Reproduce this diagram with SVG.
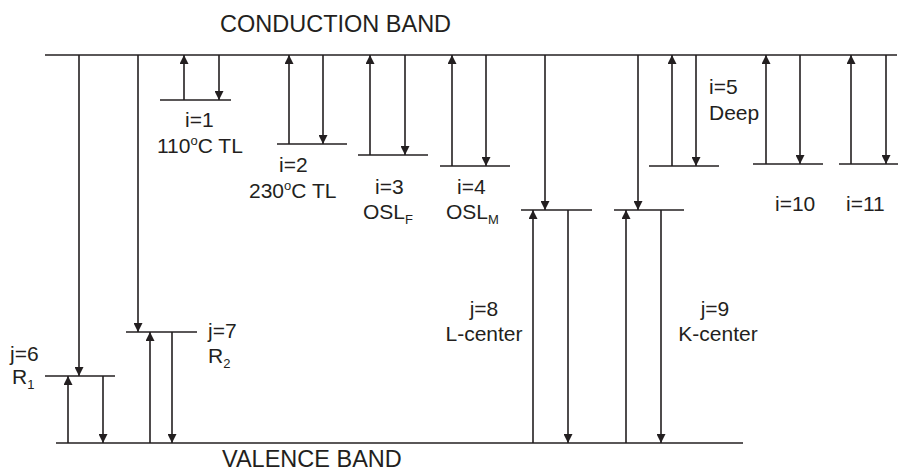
<svg xmlns="http://www.w3.org/2000/svg" width="898" height="473" viewBox="0 0 898 473">
<defs>
<style>
.ln{stroke:#231f20;stroke-width:1.6;fill:none}
.ar{stroke:#231f20;stroke-width:1.6;fill:none;marker-end:url(#ah)}
text{font-family:"Liberation Sans",Arial,sans-serif;fill:#231f20}
.t{font-size:23.5px}
.l{font-size:21px}
.s{font-size:13px}
</style>
<marker id="ah" viewBox="0 0 10 10" refX="10" refY="5" markerWidth="11" markerHeight="9" markerUnits="userSpaceOnUse" orient="auto">
<path d="M0,0 L10,5 L0,10 z" fill="#231f20"/>
</marker>
</defs>
<rect width="898" height="473" fill="#fff"/>
<g id="conduction-band">
<line class="ln" x1="45" y1="55" x2="897" y2="55"/>
<text class="t" x="220" y="32">CONDUCTION BAND</text>
</g>
<g id="valence-band">
<line class="ln" x1="56" y1="443" x2="743" y2="443"/>
<text class="t" x="222" y="467">VALENCE BAND</text>
</g>
<g id="level-j6">
<line class="ln" x1="45" y1="376" x2="115" y2="376"/>
<text class="l" x="10" y="361">j=6</text>
<text class="l" x="12" y="384">R<tspan class="s" dy="5">1</tspan></text>
</g>
<g id="level-j7">
<line class="ln" x1="126" y1="332" x2="197" y2="332"/>
<text class="l" x="208" y="338">j=7</text>
<text class="l" x="208" y="363">R<tspan class="s" dy="5">2</tspan></text>
</g>
<g id="level-i1">
<line class="ln" x1="160" y1="100" x2="231" y2="100"/>
<text class="l" x="185" y="127">i=1</text>
<text class="l" x="157" y="153">110<tspan class="s" dy="-8">o</tspan><tspan dy="8">C TL</tspan></text>
</g>
<g id="level-i2">
<line class="ln" x1="277" y1="144" x2="347" y2="144"/>
<text class="l" x="279" y="172">i=2</text>
<text class="l" x="249" y="198">230<tspan class="s" dy="-8">o</tspan><tspan dy="8">C TL</tspan></text>
</g>
<g id="level-i3">
<line class="ln" x1="358" y1="155" x2="428" y2="155"/>
<text class="l" x="375" y="194">i=3</text>
<text class="l" x="363" y="219">OSL<tspan class="s" dy="5">F</tspan></text>
</g>
<g id="level-i4">
<line class="ln" x1="440" y1="166" x2="510" y2="166"/>
<text class="l" x="457" y="194">i=4</text>
<text class="l" x="446" y="219">OSL<tspan class="s" dy="5">M</tspan></text>
</g>
<g id="level-j8">
<line class="ln" x1="521" y1="210" x2="592" y2="210"/>
<text class="l" x="484" y="316" text-anchor="middle">j=8</text>
<text class="l" x="484" y="341" text-anchor="middle">L-center</text>
</g>
<g id="level-j9">
<line class="ln" x1="614" y1="210" x2="684" y2="210"/>
<text class="l" x="715" y="316" text-anchor="middle">j=9</text>
<text class="l" x="718" y="341" text-anchor="middle">K-center</text>
</g>
<g id="level-i5">
<line class="ln" x1="649" y1="166" x2="719" y2="166"/>
<text class="l" x="709" y="94">i=5</text>
<text class="l" x="709" y="120">Deep</text>
</g>
<g id="level-i10">
<line class="ln" x1="753" y1="164" x2="823" y2="164"/>
<text class="l" x="775" y="211">i=10</text>
</g>
<g id="level-i11">
<line class="ln" x1="839" y1="164" x2="898" y2="164"/>
<text class="l" x="846" y="211">i=11</text>
</g>
<g id="connectors">
<line class="ar" x1="79" y1="55" x2="79" y2="376"/>
<line class="ar" x1="68" y1="443" x2="68" y2="376"/>
<line class="ar" x1="103" y1="376" x2="103" y2="443"/>
<line class="ar" x1="138" y1="55" x2="138" y2="332"/>
<line class="ar" x1="150" y1="443" x2="150" y2="332"/>
<line class="ar" x1="172" y1="332" x2="172" y2="443"/>
<line class="ar" x1="184" y1="100" x2="184" y2="55"/>
<line class="ar" x1="219" y1="55" x2="219" y2="100"/>
<line class="ar" x1="289" y1="144" x2="289" y2="55"/>
<line class="ar" x1="323" y1="55" x2="323" y2="144"/>
<line class="ar" x1="370" y1="155" x2="370" y2="55"/>
<line class="ar" x1="405" y1="55" x2="405" y2="155"/>
<line class="ar" x1="452" y1="166" x2="452" y2="55"/>
<line class="ar" x1="486" y1="55" x2="486" y2="166"/>
<line class="ar" x1="545" y1="55" x2="545" y2="210"/>
<line class="ar" x1="533" y1="443" x2="533" y2="210"/>
<line class="ar" x1="568" y1="210" x2="568" y2="443"/>
<line class="ar" x1="638" y1="55" x2="638" y2="210"/>
<line class="ar" x1="626" y1="443" x2="626" y2="210"/>
<line class="ar" x1="661" y1="210" x2="661" y2="443"/>
<line class="ar" x1="672" y1="166" x2="672" y2="55"/>
<line class="ar" x1="696" y1="55" x2="696" y2="166"/>
<line class="ar" x1="766" y1="164" x2="766" y2="55"/>
<line class="ar" x1="800" y1="55" x2="800" y2="164"/>
<line class="ar" x1="851" y1="164" x2="851" y2="55"/>
<line class="ar" x1="886" y1="55" x2="886" y2="164"/>
</g>
</svg>
